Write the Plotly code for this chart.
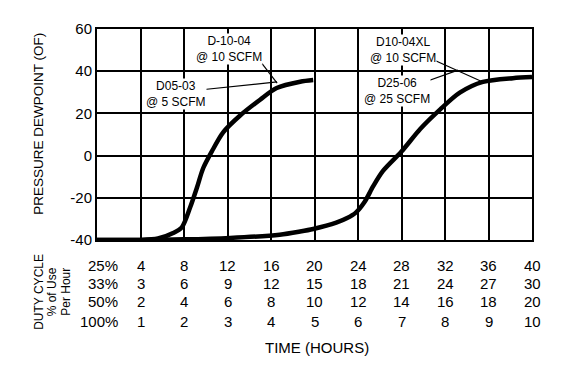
import plotly.graph_objects as go

# ---- data ----
# time axis expressed as hours at 100% duty cycle (0..10)
curve_a_x = [0, 0.5, 1.0, 1.4, 1.75, 1.95, 2.14, 2.3, 2.44, 2.64, 2.9, 3.29, 3.75, 4.13, 4.67, 4.97]
curve_a_y = [-40, -40, -40, -39.3, -36.7, -34, -24.6, -15, -6, 2, 11, 19, 26.5, 32, 35, 35.8]

curve_b_x = [0, 1, 2, 3.06, 4.2, 4.67, 4.97, 5.5, 5.75, 5.95, 6.15, 6.35, 6.57, 7.0, 7.43, 7.89, 8.34, 8.87, 9.56, 10]
curve_b_y = [-40, -40, -39.7, -39, -37.5, -36, -34.8, -31.8, -29.6, -27, -22, -14.5, -7.4, 1.9, 12.6, 21.9, 29.8, 34.9, 36.7, 37.2]

duty_labels = ["25%", "33%", "50%", "100%"]
duty_values = [
    ["4", "8", "12", "16", "20", "24", "28", "32", "36", "40"],
    ["3", "6", "9", "12", "15", "18", "21", "24", "27", "30"],
    ["2", "4", "6", "8", "10", "12", "14", "16", "18", "20"],
    ["1", "2", "3", "4", "5", "6", "7", "8", "9", "10"],
]
duty_columns_x = [1, 2, 3, 4, 5, 6, 7, 8, 9, 10]  # each column sits under a vertical grid line

y_ticks = [-40, -20, 0, 20, 40, 60]
y_tick_text = ["-40", "-20", "0", "20", "40", "60"]

callout_texts = ["D-10-04<br>@ 10 SCFM", "D05-03<br>@ 5 SCFM", "D10-04XL<br>@ 10 SCFM", "D25-06<br>@ 25 SCFM"]
callout_pos = [(3.03, 50.7), (1.82, 29.0), (7.03, 50.0), (6.9, 30.5)]
leader_lines = [((3.79, 43.7), (4.14, 34.4)),
                ((2.41, 31.2), (4.14, 34.9)),
                ((7.77, 45.1), (8.87, 34.9)),
                ((7.47, 34.4), (8.30, 40.5))]

FONT = "Liberation Sans, Arial, sans-serif"
FS_NUM = 15

fig = go.Figure()
for xs, ys in [(curve_a_x, curve_a_y), (curve_b_x, curve_b_y)]:
    fig.add_trace(go.Scatter(x=xs, y=ys, mode="lines",
                             line=dict(color="black", width=4.5, shape="spline", smoothing=0.8),
                             cliponaxis=False, showlegend=False, hoverinfo="skip"))

# leader lines
for (x0, y0), (x1, y1) in leader_lines:
    fig.add_shape(type="line", xref="x", yref="y", x0=x0, y0=y0, x1=x1, y1=y1,
                  line=dict(color="black", width=1.2), layer="above")

# callout text
for t, (cx, cy) in zip(callout_texts, callout_pos):
    fig.add_annotation(x=cx, y=cy, xref="x", yref="y", text=t, showarrow=False,
                       font=dict(family=FONT, size=12, color="black"),
                       bgcolor="white", borderpad=0, align="center")

# duty cycle table (below the plot)
row_y = [-0.121, -0.205, -0.291, -0.384]
for r, (lab, vals) in enumerate(zip(duty_labels, duty_values)):
    fig.add_annotation(x=0.52, y=row_y[r], xref="x", yref="paper", text=lab, showarrow=False,
                       xanchor="right", yanchor="middle", font=dict(family=FONT, size=FS_NUM, color="black"))
    for cx, v in zip(duty_columns_x, vals):
        fig.add_annotation(x=cx, y=row_y[r], xref="x", yref="paper", text=v,
                           showarrow=False, xanchor="center", yanchor="middle",
                           font=dict(family=FONT, size=FS_NUM, color="black"))

fig.add_annotation(x=5.05, y=-0.509, xref="x", yref="paper", text="TIME (HOURS)", showarrow=False,
                   xanchor="center", yanchor="middle", font=dict(family=FONT, size=15, color="black"))

for txt, px in [("DUTY CYCLE", -0.134), ("% of Use", -0.103), ("Per Hour", -0.072)]:
    fig.add_annotation(x=px, y=-0.247, xref="paper", yref="paper", text=txt, showarrow=False,
                       textangle=-90, xanchor="center", yanchor="middle",
                       font=dict(family=FONT, size=12, color="black"))

fig.add_annotation(x=-0.134, y=0.55, xref="paper", yref="paper", text="PRESSURE DEWPOINT (OF)",
                   showarrow=False, textangle=-90, xanchor="center", yanchor="middle",
                   font=dict(family=FONT, size=13.5, color="black"))

fig.update_xaxes(range=[0, 10], dtick=1, tick0=0, showgrid=True, gridcolor="black", gridwidth=2,
                 showticklabels=False, ticks="", zeroline=False,
                 showline=True, linecolor="black", linewidth=2, mirror=True)
fig.update_yaxes(range=[-40, 60], tickvals=y_ticks, ticktext=y_tick_text, showgrid=True,
                 gridcolor="black", gridwidth=2,
                 ticks="", zeroline=False, showline=True, linecolor="black", linewidth=2, mirror=True,
                 tickfont=dict(family=FONT, size=FS_NUM, color="black"))

# page body has an 8px default margin: size/margins compensate so the plot sits where the reference has it
fig.update_layout(width=559, height=367, margin=dict(l=89, r=35, t=17, b=135),
                  plot_bgcolor="white", paper_bgcolor="white",
                  font=dict(family=FONT, size=14, color="black"))

fig.write_html("out.html")
